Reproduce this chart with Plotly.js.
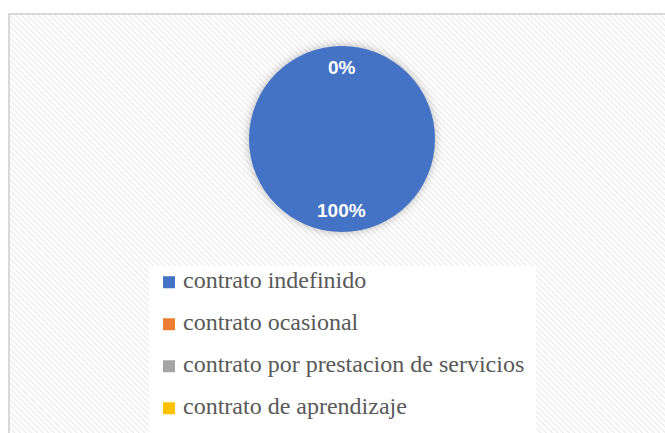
<!DOCTYPE html>
<html>
<head>
<meta charset="utf-8">
<script src="https://cdn.plot.ly/plotly-3.0.1.min.js"></script>
<style>
  html, body { margin: 0; padding: 0; background: #ffffff; overflow: hidden; }
  #frame {
    position: absolute; left: 8px; top: 13px; width: 680px; height: 440px;
    border: 2px solid #d9d9d9;
    background: repeating-linear-gradient(45deg, #ffffff 0px, #ffffff 2px, #efefef 2.5px, #efefef 3.5px, #ffffff 4px);
  }
  #chart { position: absolute; left: 0; top: 0; width: 665px; height: 470px; }
  .legendtext { transform: translateX(-6px); }
  .legendtext, .legendtext tspan { font-family: "Liberation Serif", "Times New Roman", serif !important; }
  .slice path.surface { filter: drop-shadow(0px 0px 5px rgba(0,0,0,0.28)); }
</style>
</head>
<body>
<div id="frame"></div>
<div id="chart"></div>
<script>
const categories = ["contrato indefinido", "contrato ocasional", "contrato por prestacion de servicios", "contrato de aprendizaje"];
const values = [100, 0, 0, 0];
const colors = ["#4472C4", "#ED7D31", "#A5A5A5", "#FFC000"];

const total = values.reduce((a, b) => a + b, 0);
const pct = values.map(v => Math.round(v / total * 100) + "%");

// legend labels: larger text span + empty second line to widen row spacing
const legendLabels = categories.map(c => '<span style="font-size:24px">' + c + '</span><br> ');

// plot is taller than the 433px window so the legend can run off the bottom edge
const W = 665, H = 470;
const cx = 342, cy = 139, R = 93;

const trace = {
  type: "pie",
  labels: legendLabels,
  values: values,
  sort: false,
  direction: "clockwise",
  rotation: 0,
  marker: { colors: colors, line: { width: 0 } },
  textinfo: "none",
  hoverinfo: "skip",
  domain: { x: [(cx - R) / W, (cx + R) / W], y: [1 - (cy + R) / H, 1 - (cy - R) / H] },
  showlegend: true
};

const annotations = [
  { text: pct[0], x: (cx - 1) / W, y: 1 - 210 / H },
  { text: pct[1], x: cx / W, y: 1 - 67 / H }
].map(a => Object.assign({
  xref: "paper", yref: "paper", showarrow: false,
  xanchor: "center", yanchor: "middle",
  font: { family: "Liberation Sans", size: 19, color: "#ffffff", weight: "bold" }
}, a));

const layout = {
  width: W, height: H,
  margin: { l: 0, r: 0, t: 0, b: 0 },
  paper_bgcolor: "rgba(0,0,0,0)",
  plot_bgcolor: "rgba(0,0,0,0)",
  showlegend: true,
  legend: {
    x: 149 / W, y: 1 - 266 / H, xanchor: "left", yanchor: "top",
    bgcolor: "rgba(255,255,255,0.92)",
    font: { family: "Liberation Serif", size: 15, color: "#595959" },
    valign: "top",
    itemclick: false, itemdoubleclick: false
  },
  annotations: annotations
};

Plotly.newPlot("chart", [trace], layout, { displayModeBar: false, staticPlot: true });
</script>
</body>
</html>
